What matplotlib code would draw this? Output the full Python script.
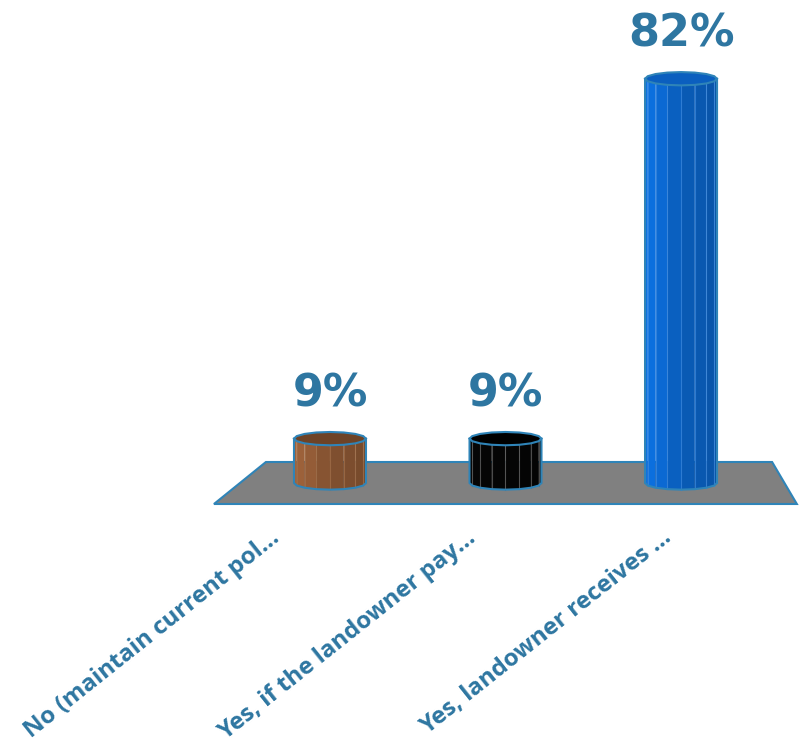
import numpy as np
import matplotlib.pyplot as plt
from matplotlib.patches import Polygon
from matplotlib.colors import to_rgb

categories = ["No (maintain current pol\u2026",
              "Yes, if the landowner pay\u2026",
              "Yes, landowner receives \u2026"]
values = [9, 9, 82]
bar_colors = ["#8a5633", "#050505", "#0a62c4"]
facet_line_colors = ["#a3714b", "#6a6a6a", "#3d8ae0"]
cap_colors = ["#6e4326", "#000000", "#0b5fbf"]

TEXT = "#2e76a1"
EDGE = "#2f84b8"

fig = plt.figure(figsize=(8.03, 7.44), dpi=100)
ax = fig.add_axes([0, 0, 1, 1])
ax.set_xlim(-1.880, 2.695)
ax.set_ylim(-52.94, 97.97)
ax.axis("off")

# gray floor in perspective
floor = Polygon([(-0.365, 4.26), (2.519, 4.26), (2.66, -4.26), (-0.661, -4.26)],
                closed=True, facecolor="#808080", edgecolor=EDGE, lw=1.5, zorder=1)
ax.add_patch(floor)

r = 0.205      # cylinder half-width (x units)
b = 1.35       # ellipse half-height (y units)
n_fac = 16


def shade(c, f):
    rgb = np.array(to_rgb(c)) * f
    return tuple(np.clip(rgb, 0, 1))


def cylinder(x0, h, color, line_c, cap_c):
    ang = np.linspace(0, 2 * np.pi, n_fac + 1)
    # front facets (angles 0..pi are the front half, lower on screen)
    front = ang[ang <= np.pi + 1e-9]
    for a0, a1 in zip(front[:-1], front[1:]):
        am = 0.5 * (a0 + a1)
        f = 1.0 - 0.16 * np.cos(am) - 0.06 * np.sin(am) ** 8
        xs = [x0 + r * np.cos(a0), x0 + r * np.cos(a1)]
        yb = [-b * np.sin(a0), -b * np.sin(a1)]
        yt = [h - b * np.sin(a0), h - b * np.sin(a1)]
        quad = [(xs[0], yb[0]), (xs[1], yb[1]), (xs[1], yt[1]), (xs[0], yt[0])]
        ax.add_patch(Polygon(quad, closed=True, facecolor=shade(color, f),
                             edgecolor="none", zorder=3))
        ax.plot([xs[0], xs[0]], [yb[0], yt[0]], color=line_c, lw=0.8,
                alpha=0.7, zorder=3.5)
    # outline of the body
    outline = [(x0 + r * np.cos(a), -b * np.sin(a)) for a in front]
    outline += [(x0 - r, h), (x0 + r, h)]
    ax.add_patch(Polygon(outline, closed=True, facecolor="none",
                         edgecolor=EDGE, lw=1.5, zorder=4))
    # faceted top cap
    cap = [(x0 + r * np.cos(a), h - b * np.sin(a)) for a in ang[:-1]]
    ax.add_patch(Polygon(cap, closed=True, facecolor=cap_c,
                         edgecolor=EDGE, lw=1.5, zorder=5))


for i, v in enumerate(values):
    cylinder(i, v, bar_colors[i], facet_line_colors[i], cap_colors[i])
    ax.text(i, v + 6.5, f"{v}%", ha="center", va="baseline", color=TEXT,
            fontsize=32, fontweight="bold", family="DejaVu Sans", zorder=6)

# category labels sit on the front edge of the floor, which is wider
label_x = [-0.30 + 1.115 * i for i in range(len(categories))]
for lx, name in zip(label_x, categories):
    ax.text(lx, -10.6, name, rotation=38.5, rotation_mode="anchor",
            ha="right", va="center", color=TEXT, fontsize=17.3,
            fontweight="bold", family="Open Sans")

fig.savefig("out.png", dpi=100)
